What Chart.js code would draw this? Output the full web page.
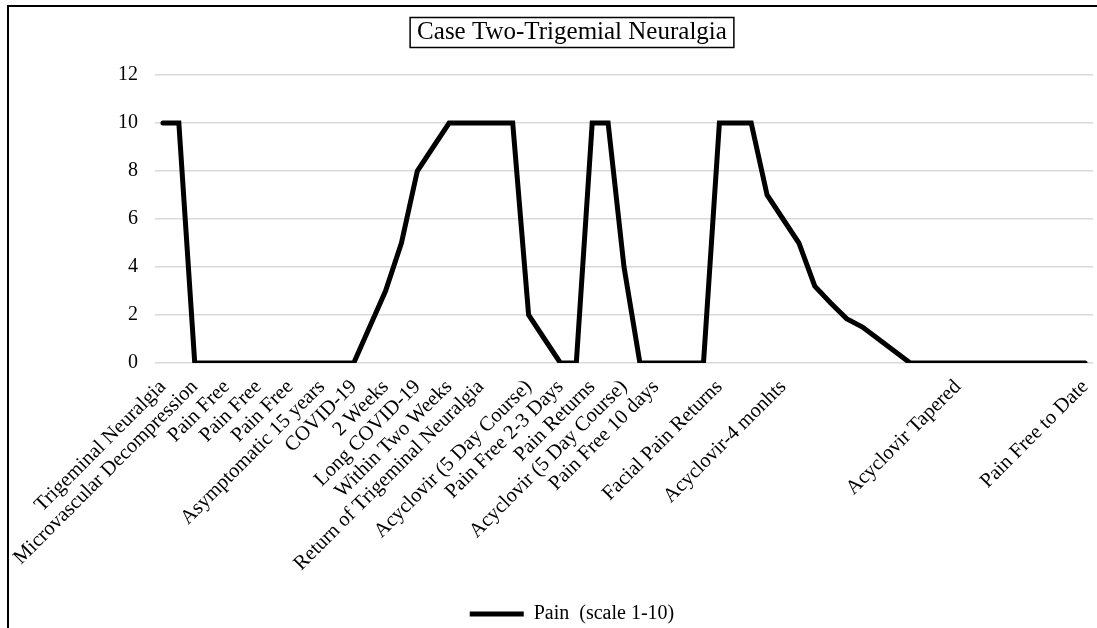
<!DOCTYPE html>
<html>
<head>
<meta charset="utf-8">
<script src="https://cdn.jsdelivr.net/npm/chart.js@4.4.1/dist/chart.umd.min.js"></script>
<style>
  html, body { margin: 0; padding: 0; background: #fff; }
  #wrap { width: 1097px; height: 628px; position: relative; }
</style>
</head>
<body>
<div id="wrap"><canvas id="painChart"></canvas></div>
<script>
const chartTitle = 'Case Two-Trigemial Neuralgia';
const seriesLabel = 'Pain  (scale 1-10)';

// one slot per time step, most steps have no label
const categories = [
  'Trigeminal Neuralgia', '', 'Microvascular Decompression', '', 'Pain Free', '',
  'Pain Free', '', 'Pain Free', '', 'Asymptomatic 15 years', '', 'COVID-19', '',
  '2 Weeks', '', 'Long COVID-19', '', 'Within Two Weeks', '', 'Return of Trigeminal Neuralgia',
  '', '', 'Acyclovir (5 Day Course)', '', 'Pain Free 2-3 Days', '', 'Pain Returns', '',
  'Acyclovir (5 Day Course)', '', 'Pain Free 10 days', '', '', '', 'Facial Pain Returns',
  '', '', '', 'Acyclovir-4 monhts', '', '', '', '', '', '', '', '', '', '',
  'Acyclovir Tapered', '', '', '', '', '', '', '', 'Pain Free to Date'
];

const painValues = [
  10, 10, 0, 0, 0, 0, 0, 0, 0, 0, 0, 0, 0, 1.5, 3, 5, 8, 9, 10, 10,
  10, 10, 10, 2, 1, 0, 0, 10, 10, 4, 0, 0, 0, 0, 0, 10, 10, 10, 7, 6,
  5, 3.2, 2.5, 1.85, 1.5, 1, 0.5, 0, 0, 0, 0, 0, 0, 0, 0, 0, 0, 0, 0
];

const yTicks = [0, 2, 4, 6, 8, 10, 12];

const serif = "'Liberation Serif', 'Times New Roman', serif";

// frame of the original chart, only top and left edges survive the crop
const frame = {
  id: 'frame',
  afterDraw(chart) {
    const ctx = chart.ctx;
    ctx.save();
    ctx.strokeStyle = '#000';
    ctx.lineWidth = 2;
    ctx.beginPath();
    ctx.moveTo(8, chart.height);
    ctx.lineTo(8, 6);
    ctx.lineTo(chart.width, 6);
    ctx.stroke();
    ctx.restore();
  }
};

// box around the title text
const titleBox = {
  id: 'titleBox',
  afterDraw(chart) {
    const t = chart.titleBlock;
    const ctx = chart.ctx;
    ctx.save();
    ctx.font = '25px ' + serif;
    const w = ctx.measureText(chartTitle).width;
    const cx = (t.left + t.right) / 2;
    const cy = t.top + 17.5 + 15;
    ctx.strokeStyle = '#000';
    ctx.lineWidth = 1.5;
    ctx.strokeRect(cx - w / 2 - 7, cy - 15, w + 14, 30);
    ctx.restore();
  }
};

new Chart(document.getElementById('painChart'), {
  type: 'line',
  data: {
    labels: categories,
    datasets: [{
      label: seriesLabel,
      data: painValues,
      borderColor: '#000',
      backgroundColor: '#000',
      borderWidth: 5,
      borderCapStyle: 'round',
      pointRadius: 0,
      pointHoverRadius: 0,
      tension: 0,
      fill: false
    }]
  },
  options: {
    responsive: true,
    maintainAspectRatio: false,
    animation: false,
    layout: { padding: { left: 51, right: 4, top: 0, bottom: -6 } },
    plugins: {
      title: {
        display: true,
        text: chartTitle,
        color: '#000',
        font: { family: serif, size: 25, weight: 'normal' },
        padding: { top: 17.5, bottom: 27.5 }
      },
      legend: {
        position: 'bottom',
        labels: {
          color: '#000',
          font: { family: serif, size: 20 },
          usePointStyle: true,
          pointStyle: 'line',
          pointStyleWidth: 54,
          padding: 2
        }
      },
      tooltip: { enabled: false }
    },
    scales: {
      x: {
        offset: true,
        grid: { display: false, drawTicks: false },
        border: { display: false },
        ticks: {
          autoSkip: false,
          minRotation: 45,
          maxRotation: 45,
          padding: 12,
          color: '#000',
          font: { family: serif, size: 20.5 }
        },
        afterFit(s) {
          s.height = 239;
          s.paddingLeft = 0;
          s.paddingRight = 0;
        }
      },
      y: {
        min: 0,
        max: 12,
        grid: { color: '#d9d9d9', lineWidth: 1.5, drawTicks: false },
        border: { display: false },
        ticks: {
          padding: 17,
          color: '#000',
          font: { family: serif, size: 20 }
        },
        afterBuildTicks(s) { s.ticks = yTicks.map(v => ({ value: v })); },
        afterFit(s) { s.width = 104; }
      }
    }
  },
  plugins: [frame, titleBox]
});
</script>
</body>
</html>
